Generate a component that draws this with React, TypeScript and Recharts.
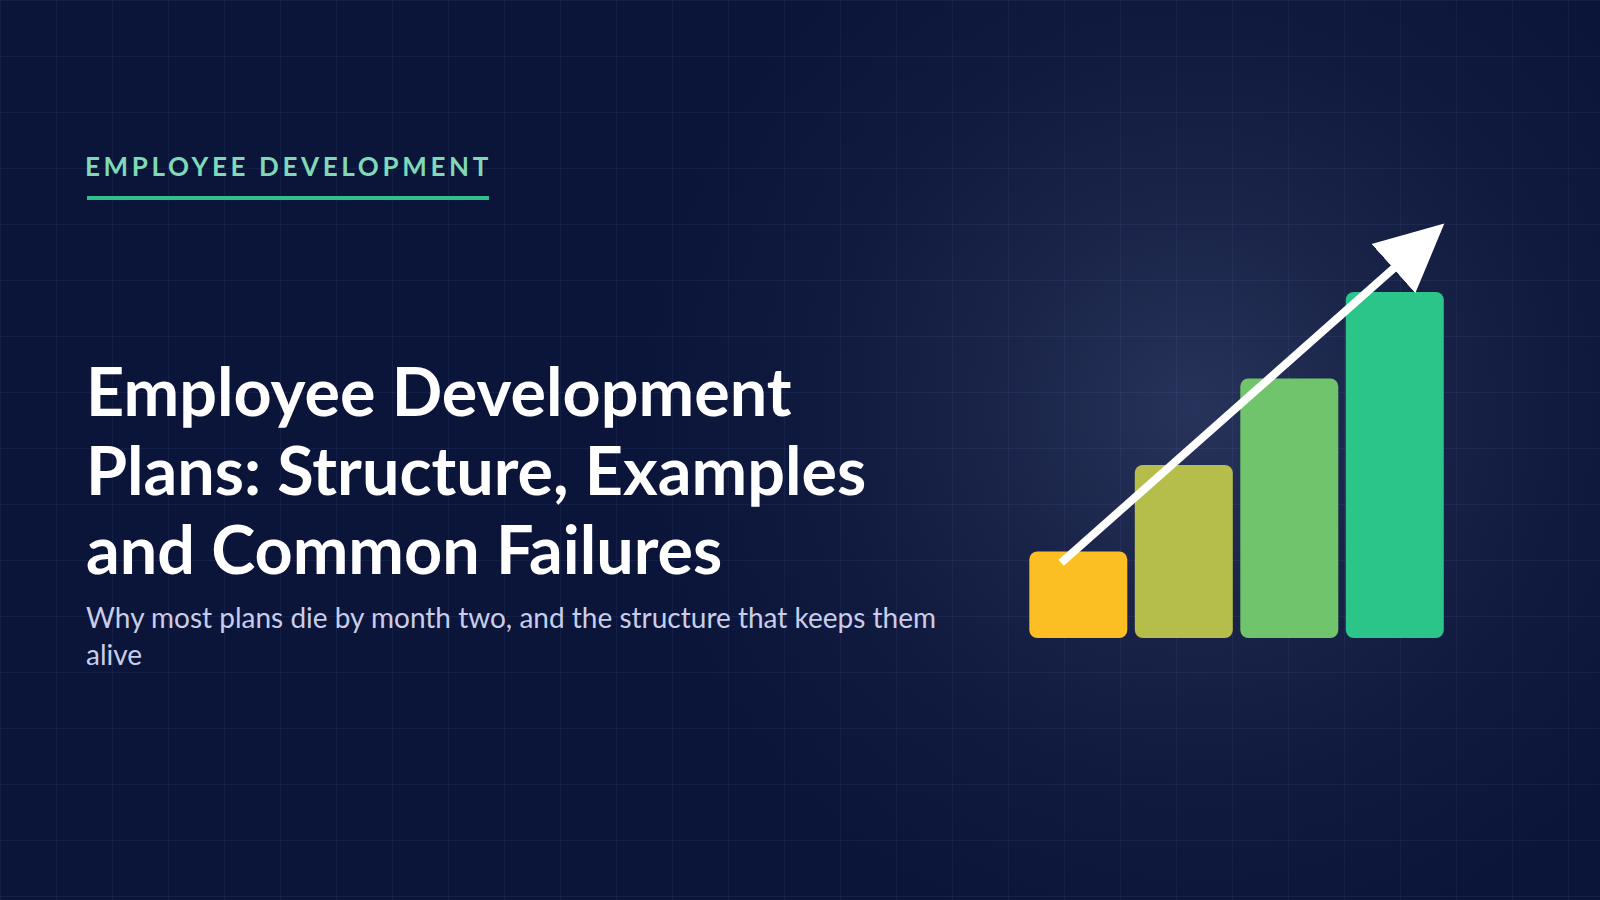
import React from 'react';
import { ComposedChart, LineChart, Line, Bar, XAxis, YAxis, Cell } from 'recharts';

// ---- data ----
const stages = ['Stage 1', 'Stage 2', 'Stage 3', 'Stage 4'];
const growth = [1, 2, 3, 4];
const barColors = ['#fbbf24', '#b5be4a', '#70c46c', '#2bc589'];
const arrowX = [0.34, 3.915];
const arrowY = [0.87, 4.73];

const kicker = 'EMPLOYEE DEVELOPMENT';
const titleLines = ['Employee Development', 'Plans: Structure, Examples', 'and Common Failures'];
const subtitleLines = ['Why most plans die by month two, and the structure that keeps them', 'alive'];

const chartData = stages.map((s, i) => ({ stage: s, value: growth[i] }));
const arrowData = arrowX.map((x, i) => ({ x, y: arrowY[i] }));

const CHART_W = 480;
const CHART_H = 480;
const MARGIN = { top: 25.5, right: 32.7, bottom: 22, left: 25.3 };

export default function App() {
  const bg: React.CSSProperties = {
    position: 'fixed',
    left: 0,
    top: 0,
    width: 1600,
    height: 900,
    overflow: 'hidden',
    backgroundColor: '#0b1539',
    backgroundImage: [
      'linear-gradient(rgba(140,160,255,0.07) 1px, transparent 1px)',
      'linear-gradient(90deg, rgba(140,160,255,0.07) 1px, transparent 1px)',
      'radial-gradient(circle at 1195px 410px, #27335a 0px, #1a2449 200px, #0f1a3e 380px, #0b1539 560px)',
    ].join(','),
    backgroundSize: '56px 56px, 56px 56px, 1600px 900px',
    backgroundPosition: '0 0, 0 0, 0 0',
  };

  return (
    <div style={bg}>
      <svg width={1600} height={900} style={{ position: 'absolute', left: 0, top: 0 }}>
        <defs>
          <marker
            id="arrowHead"
            markerUnits="userSpaceOnUse"
            markerWidth={80}
            markerHeight={80}
            viewBox="0 -40 80 80"
            refX={60}
            refY={0}
            orient="auto"
          >
            <path d="M0,-33 L68,0 L0,33 Z" fill="#ffffff" />
          </marker>
        </defs>
        <text
          x={85}
          y={175.5}
          fontFamily="Lato"
          fontWeight={700}
          fontSize={26}
          letterSpacing={3.63}
          fill="#7fd9b6"
        >
          {kicker}
        </text>
        <rect x={87} y={196} width={402} height={4} fill="#2fbf8a" />
        {titleLines.map((t, i) => (
          <text key={t} x={86} y={416 + i * 79} fontFamily="Lato" fontWeight={700} fontSize={66.5} fill="#ffffff">
            {t}
          </text>
        ))}
        {subtitleLines.map((t, i) => (
          <text key={t} x={86} y={627.5 + i * 37} fontFamily="Lato" fontWeight={400} fontSize={28} fill="#c9cdea">
            {t}
          </text>
        ))}
      </svg>
      <div style={{ position: 'absolute', left: 1000, top: 180 }}>
        <ComposedChart width={CHART_W} height={CHART_H} data={chartData} margin={MARGIN} barCategoryGap={4}>
          <XAxis dataKey="stage" hide />
          <YAxis type="number" domain={[0, 5]} hide allowDataOverflow />
          <Bar dataKey="value" radius={8} isAnimationActive={false}>
            {chartData.map((d, i) => (
              <Cell key={d.stage} fill={barColors[i]} />
            ))}
          </Bar>
        </ComposedChart>
      </div>
      <div style={{ position: 'absolute', left: 1000, top: 180 }}>
        <LineChart width={CHART_W} height={CHART_H} data={arrowData} margin={MARGIN}>
          <XAxis dataKey="x" type="number" domain={[0, 4]} hide allowDataOverflow />
          <YAxis type="number" domain={[0, 5]} hide allowDataOverflow />
          <Line
            dataKey="y"
            type="linear"
            stroke="#ffffff"
            strokeWidth={8}
            dot={false}
            activeDot={false}
            markerEnd="url(#arrowHead)"
            isAnimationActive={false}
          />
        </LineChart>
      </div>
    </div>
  );
}
